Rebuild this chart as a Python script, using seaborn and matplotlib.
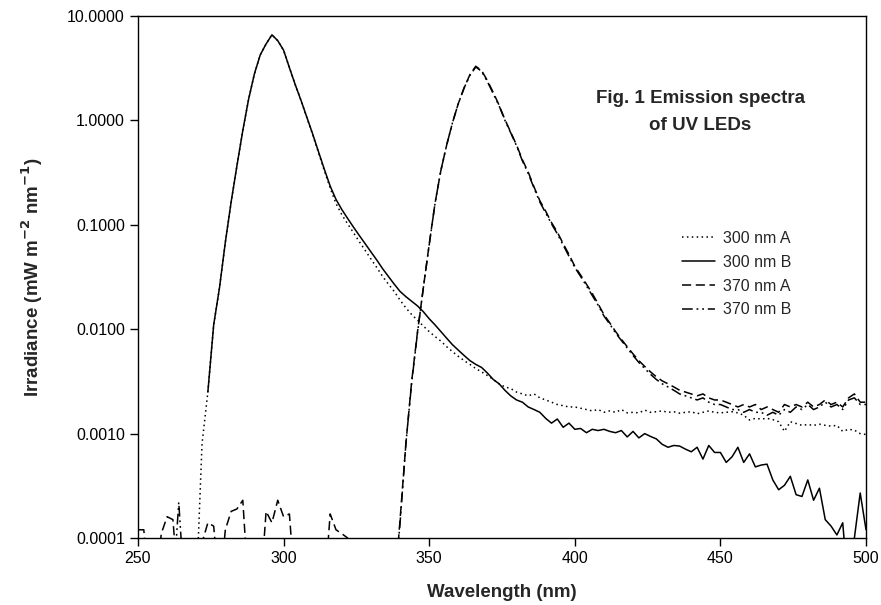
import matplotlib
matplotlib.use("Agg")
import matplotlib.pyplot as plt
import numpy as np
import pandas as pd
import seaborn as sns
from matplotlib.ticker import FixedLocator, FormatStrFormatter, NullLocator

# Wavelength grid (nm), 2 nm steps
wavelength = list(range(250, 501, 2))

NA = np.nan
Z = 0.00003  # below the axis floor, gets clipped like a zero reading

irr_300_a = [
    Z, Z, Z, Z, Z, Z, Z, Z, Z, Z,                      # 250-268
    Z, 0.0008, 0.0025, 0.011, 0.025, 0.068, 0.165, 0.37, 0.80, 1.6,   # 270-288
    2.8, 4.25, 5.4, 6.6, 5.8, 4.7, 3.2, 2.2, 1.55, 1.06,            # 290-308
    0.73, 0.49, 0.33, 0.225, 0.16, 0.125, 0.102, 0.084, 0.069, 0.057,  # 310-328
    0.047, 0.039, 0.032, 0.027, 0.023, 0.019, 0.016, 0.0138, 0.0122, 0.0107,  # 330-348
    0.0095, 0.0085, 0.0077, 0.0068, 0.0061, 0.0055, 0.0050, 0.0046, 0.0042, 0.0039,  # 350-368
    0.0036, 0.0033, 0.0030, 0.0028, 0.0027, 0.0025, 0.0024, 0.0023, 0.0024, 0.0022,  # 370-388
    0.0021, 0.0020, 0.0019, 0.00185, 0.0018, 0.0018, 0.00175, 0.0017, 0.00165, 0.0017,  # 390-408
    0.0016, 0.00165, 0.0016, 0.0017, 0.00158, 0.0016, 0.00158, 0.00168, 0.0016, 0.00162,  # 410-428
    0.00165, 0.0016, 0.00162, 0.00157, 0.0016, 0.00162, 0.00155, 0.0016, 0.00165, 0.0016,  # 430-448
    0.00158, 0.0016, 0.00162, 0.00158, 0.0015, 0.00135, 0.0014, 0.00138, 0.0014, 0.00136,  # 450-468
    0.0013, 0.00105, 0.0013, 0.00125, 0.0012, 0.00122, 0.0012, 0.00123, 0.0012, 0.00118,  # 470-488
    0.0012, 0.00105, 0.0011, 0.00108, 0.0010, 0.00098,                 # 490-500
]

irr_300_b = [
    NA, NA, NA, NA, NA, NA, NA, NA, NA, NA,            # 250-268
    NA, NA, 0.0025, 0.011, 0.025, 0.068, 0.166, 0.37, 0.80, 1.6,     # 270-288
    2.8, 4.25, 5.4, 6.6, 5.8, 4.7, 3.2, 2.2, 1.55, 1.07,            # 290-308
    0.74, 0.50, 0.34, 0.235, 0.175, 0.14, 0.115, 0.095, 0.079, 0.066,  # 310-328
    0.055, 0.046, 0.038, 0.032, 0.027, 0.023, 0.0205, 0.0185, 0.0167, 0.0147,  # 330-348
    0.0126, 0.011, 0.0095, 0.0082, 0.0071, 0.0063, 0.0056, 0.0050, 0.0046, 0.0043,  # 350-368
    0.0038, 0.0033, 0.0030, 0.0026, 0.0023, 0.0021, 0.0020, 0.0018, 0.0017, 0.0016,  # 370-388
    0.0014, 0.00126, 0.00138, 0.00115, 0.00126, 0.0011, 0.00112, 0.00102, 0.0011, 0.00107,  # 390-408
    0.0011, 0.00105, 0.00102, 0.00107, 0.00093, 0.00105, 0.00091, 0.0010, 0.00094, 0.00089,  # 410-428
    0.00079, 0.00074, 0.00077, 0.00076, 0.00071, 0.00067, 0.00074, 0.00057, 0.00077, 0.00066,  # 430-448
    0.00066, 0.00053, 0.00060, 0.00074, 0.00053, 0.00064, 0.00048, 0.00050, 0.00051, 0.00036,  # 450-468
    0.00029, 0.00032, 0.00039, 0.00026, 0.00025, 0.00036, 0.00023, 0.00030, 0.00015, 0.00013,  # 470-488
    0.000107, 0.00014, Z, 0.0001, 0.00027, 0.00012,                    # 490-500
]

irr_370_a = [
    0.00012, 0.00012, Z, Z, 0.00011, 0.00016, 0.00015, Z, Z, 0.00009,  # 250-268
    Z, 0.00009, 0.00014, 0.00013, Z, 0.00012, 0.00018, 0.00019, 0.00023, Z,  # 270-288
    Z, Z, 0.00018, 0.00014, 0.00023, 0.00016, 0.00017, Z, Z, Z,        # 290-308
    0.00009, 0.00009, Z, 0.00017, 0.00012, 0.00011, 0.0001, Z, Z, Z,   # 310-328
    Z, Z, Z, Z, Z, 0.00015, 0.0008, 0.0032, 0.0095, 0.025,            # 330-348
    0.065, 0.16, 0.33, 0.58, 0.95, 1.45, 2.05, 2.75, 3.3, 3.0,        # 350-368
    2.4, 1.85, 1.4, 1.02, 0.77, 0.58, 0.42, 0.32, 0.23, 0.17,         # 370-388
    0.135, 0.105, 0.085, 0.066, 0.052, 0.040, 0.033, 0.027, 0.022, 0.0175,  # 390-408
    0.0138, 0.0115, 0.0095, 0.0080, 0.0068, 0.0058, 0.0050, 0.0044, 0.0039, 0.0035,  # 410-428
    0.0032, 0.0030, 0.0028, 0.0026, 0.0025, 0.0024, 0.0023, 0.0024, 0.0022, 0.0021,  # 430-448
    0.0021, 0.0020, 0.0019, 0.0018, 0.0019, 0.0018, 0.0019, 0.0017, 0.0018, 0.0017,  # 450-468
    0.0016, 0.0019, 0.0018, 0.0019, 0.0018, 0.0020, 0.0018, 0.0019, 0.0021, 0.0019,  # 470-488
    0.0020, 0.0018, 0.0022, 0.0024, 0.0020, 0.0020,                   # 490-500
]

irr_370_b = [
    Z, Z, Z, Z, Z, Z, Z, 0.00022, Z, Z,                # 250-268
    Z, Z, Z, Z, Z, Z, Z, Z, Z, Z,                      # 270-288
    Z, Z, Z, Z, Z, Z, Z, Z, Z, Z,                      # 290-308
    Z, Z, Z, Z, Z, Z, Z, Z, Z, Z,                      # 310-328
    Z, Z, Z, Z, Z, 0.00014, 0.0008, 0.0031, 0.0093, 0.025,            # 330-348
    0.064, 0.16, 0.33, 0.58, 0.95, 1.45, 2.05, 2.7, 3.25, 2.95,       # 350-368
    2.35, 1.8, 1.38, 1.0, 0.76, 0.57, 0.41, 0.31, 0.225, 0.165,       # 370-388
    0.13, 0.102, 0.082, 0.064, 0.050, 0.039, 0.032, 0.026, 0.021, 0.017,  # 390-408
    0.0134, 0.0112, 0.0092, 0.0078, 0.0066, 0.0056, 0.0048, 0.0042, 0.0037, 0.0033,  # 410-428
    0.0030, 0.0028, 0.0026, 0.0024, 0.0023, 0.0022, 0.0021, 0.0022, 0.0020, 0.0019,  # 430-448
    0.0019, 0.0018, 0.0017, 0.0017, 0.0016, 0.0017, 0.0016, 0.0016, 0.0015, 0.0016,  # 450-468
    0.0015, 0.0017, 0.0016, 0.0018, 0.0017, 0.0019, 0.0017, 0.0018, 0.0020, 0.0018,  # 470-488
    0.0019, 0.0017, 0.0021, 0.0022, 0.0019, 0.0019,                   # 490-500
]

series_names = ["300 nm A", "300 nm B", "370 nm A", "370 nm B"]
y_ticks = [0.0001, 0.001, 0.01, 0.1, 1.0, 10.0]
x_ticks = [250, 300, 350, 400, 450, 500]

frames = []
for name, vals in zip(series_names, [irr_300_a, irr_300_b, irr_370_a, irr_370_b]):
    frames.append(pd.DataFrame({"Wavelength": wavelength, "Irradiance": vals, "Series": name}))
df = pd.concat(frames, ignore_index=True).dropna()

sns.set_style("ticks")
plt.rcParams["font.family"] = ["Liberation Sans", "DejaVu Sans"]

fig = plt.figure(figsize=(8.81, 6.05), dpi=100)
ax = fig.add_axes([0.1566, 0.1107, 0.8264, 0.8629])

dash_styles = {
    "300 nm A": (1, 2.2),
    "300 nm B": "",
    "370 nm A": (6, 3),
    "370 nm B": (7, 2.5, 1.2, 2.5, 1.2, 2.5),
}
sns.lineplot(data=df, x="Wavelength", y="Irradiance", hue="Series", style="Series",
             palette=["black"] * 4, dashes=dash_styles, estimator=None,
             linewidth=1.1, ax=ax)

ax.set_yscale("log")
ax.set_ylim(0.0001, 10)
ax.set_xlim(250, 500)
ax.yaxis.set_major_locator(FixedLocator(y_ticks))
ax.yaxis.set_major_formatter(FormatStrFormatter("%.4f"))
ax.yaxis.set_minor_locator(NullLocator())
ax.set_xticks(x_ticks)
ax.tick_params(axis="both", labelsize=11.5, length=6, width=1, direction="out", colors="black")
for side in ["top", "right", "left", "bottom"]:
    ax.spines[side].set_visible(True)
    ax.spines[side].set_color("black")
    ax.spines[side].set_linewidth(1)
ax.grid(False)

ax.set_xlabel("Wavelength (nm)", fontsize=13.5, fontweight="bold", labelpad=13)
ax.set_ylabel("Irradiance (mW m$^{\\mathbf{-2}}$ nm$^{\\mathbf{-1}}$)", fontsize=13.5,
              fontweight="bold", labelpad=16)

ax.text(0.772, 0.858, "Fig. 1 Emission spectra\nof UV LEDs", transform=ax.transAxes,
        ha="center", va="top", fontsize=13.5, fontweight="bold", linespacing=1.75)

leg = ax.legend(loc="upper left", bbox_to_anchor=(0.747, 0.588), frameon=False,
                fontsize=11.5, handlelength=2.1, handletextpad=0.5, labelspacing=0.55,
                borderaxespad=0, borderpad=0)

fig.savefig("out.png", dpi=100, facecolor="white")
